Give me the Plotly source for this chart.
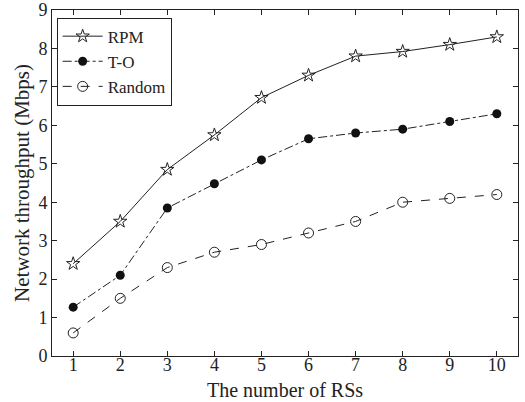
import plotly.graph_objects as go

x = [1, 2, 3, 4, 5, 6, 7, 8, 9, 10]
rpm = [2.4, 3.5, 4.85, 5.75, 6.72, 7.3, 7.8, 7.92, 8.1, 8.3]
to = [1.27, 2.1, 3.85, 4.48, 5.1, 5.65, 5.8, 5.9, 6.1, 6.3]
rnd = [0.6, 1.5, 2.3, 2.7, 2.9, 3.2, 3.5, 4.0, 4.1, 4.2]

fig = go.Figure()
fig.add_trace(go.Scatter(x=x, y=rpm, name="RPM", mode="lines+markers",
                         line=dict(color="#222", width=1, dash="solid"),
                         marker=dict(symbol="star-open", size=10, color="#222", line=dict(width=1))))
fig.add_trace(go.Scatter(x=x, y=to, name="T-O", mode="lines+markers",
                         line=dict(color="#222", width=1, dash="dashdot"),
                         marker=dict(symbol="circle", size=9, color="#111")))
fig.add_trace(go.Scatter(x=x, y=rnd, name="Random", mode="lines+markers",
                         line=dict(color="#222", width=1, dash="dash"),
                         marker=dict(symbol="circle-open", size=10, color="#222", line=dict(width=1))))

axis_common = dict(showgrid=False, zeroline=False, showline=True, linecolor="#222", linewidth=1,
                   mirror="ticks", ticks="inside", ticklen=5, tickcolor="#222", automargin=False,
                   tickfont=dict(family="Liberation Serif", size=18, color="#222"))
fig.update_layout(
    width=525, height=402,
    margin=dict(l=52, r=7, t=10, b=46),
    paper_bgcolor="white", plot_bgcolor="white",
    font=dict(family="Liberation Serif", size=19, color="#222"),
    xaxis=dict(range=[0.55, 10.45], tickvals=x, ticklabelstandoff=-8, **axis_common),
    yaxis=dict(range=[0, 9], dtick=1, **axis_common),
    legend=dict(x=0.01, y=0.978, xanchor="left", yanchor="top", bordercolor="#222", borderwidth=1,
                bgcolor="white", font=dict(family="Liberation Serif", size=17, color="#222"),
                tracegroupgap=0, itemwidth=40),
    annotations=[
        dict(text="The number of RSs", xref="paper", yref="paper", x=0.5, y=0, yshift=-21,
             xanchor="center", yanchor="top", showarrow=False,
             font=dict(family="Liberation Serif", size=20, color="#222")),
        dict(text="Network throughput (Mbps)", xref="paper", yref="paper", x=0, y=0.5, xshift=-16,
             xanchor="right", yanchor="middle", textangle=-90, showarrow=False,
             font=dict(family="Liberation Serif", size=21, color="#222")),
    ],
    showlegend=True,
)
fig.write_html("out.html")
